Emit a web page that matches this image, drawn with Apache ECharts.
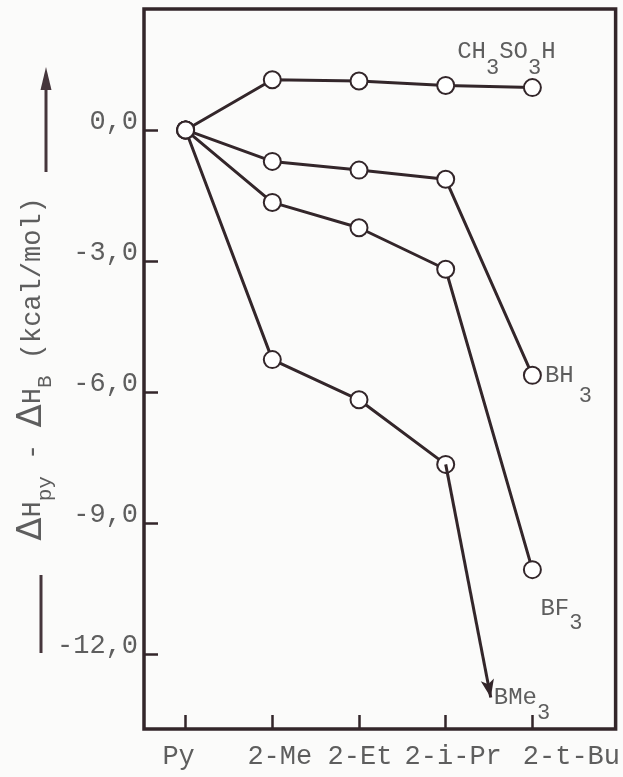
<!DOCTYPE html>
<html>
<head>
<meta charset="utf-8">
<script src="https://cdn.jsdelivr.net/npm/echarts@6/dist/echarts.min.js"></script>
<style>
  html, body { margin: 0; padding: 0; background: #fbfbfa; }
  #chart { width: 623px; height: 777px; }
</style>
</head>
<body>
<div id="chart"></div>
<script>
// Pyridine bases along the x axis
const categories = ['Py', '2-Me', '2-Et', '2-i-Pr', '2-t-Bu'];
const xPositions = [0, 1, 2, 3, 4];

// ΔH(py) - ΔH(B) in kcal/mol for each reference acid
const ch3so3h = [0, 1.15, 1.12, 1.02, 0.97];
const bh3 = [0, -0.72, -0.92, -1.13, -5.62];
const bf3 = [0, -1.66, -2.24, -3.19, -10.07];
const bme3 = [0, -5.26, -6.18, -7.66];
// BMe3 with 2-t-Bu is off scale: drawn as an arrow to this point
const bme3Tip = [3.52, -13.0];

const yTicks = [0, -3, -6, -9, -12];

const FONT = '"Liberation Mono", "DejaVu Sans Mono", monospace';
const INK = '#33262a';
const TEXT = '#5e5e5e';

const pairs = (vals) => vals.map((v, i) => [xPositions[i], v]);

const subRich = (shift, gap) => ({
  m: { fontFamily: FONT, fontSize: 24, color: TEXT, lineHeight: 24, verticalAlign: 'top' },
  s: { fontFamily: FONT, fontSize: 22, color: TEXT, lineHeight: 22, verticalAlign: 'top', padding: [shift, 0, 0, gap || 0] }
});

function withEndLabel(vals, label) {
  const d = pairs(vals);
  const last = d.length - 1;
  d[last] = { value: d[last], label: Object.assign({ show: true, color: TEXT, textBorderWidth: 0 }, label) };
  return d;
}

const baseSeries = {
  type: 'line',
  symbol: 'emptyCircle',
  symbolSize: 17,
  lineStyle: { color: INK, width: 3 },
  itemStyle: { color: INK, borderColor: INK, borderWidth: 3.2 },
  z: 3,
  animation: false
};

const chart = echarts.init(document.getElementById('chart'), null, { renderer: 'canvas' });

chart.setOption({
  backgroundColor: '#fbfbfa',
  animation: false,
  grid: {
    left: 144, right: 3, top: 9, bottom: 48,
    show: true, borderColor: INK, borderWidth: 3.5
  },
  xAxis: {
    type: 'value',
    min: -0.48, max: 4.96,
    axisLine: { show: false, onZero: false },
    splitLine: { show: false },
    axisTick: {
      show: true, inside: true, length: 14, customValues: xPositions,
      lineStyle: { color: INK, width: 2.5 }
    },
    axisLabel: {
      customValues: xPositions,
      margin: 14,
      fontFamily: FONT, fontSize: 27, color: TEXT,
      formatter: (v) => {
        const i = Math.round(v);
        return '{p' + i + '|' + categories[i] + '}';
      },
      rich: {
        p0: { padding: [0, 14, 0, 0] },
        p1: { padding: [0, 0, 0, 15] },
        p2: { padding: [0, 0, 0, 2] },
        p3: { padding: [0, 0, 0, 15] },
        p4: { padding: [0, 0, 0, 78] }
      }
    }
  },
  yAxis: {
    type: 'value',
    min: -13.72, max: 2.77,
    axisLine: { show: false, onZero: false },
    splitLine: { show: false },
    axisTick: {
      show: true, inside: true, length: 14, customValues: yTicks,
      lineStyle: { color: INK, width: 2.5 }
    },
    axisLabel: {
      customValues: yTicks,
      margin: 6,
      fontFamily: FONT, fontSize: 27, color: TEXT,
      formatter: (v) => '{a|' + v.toFixed(1).replace('.', ',') + '}',
      rich: {
        a: { fontFamily: FONT, fontSize: 27, color: TEXT, lineHeight: 27, padding: [0, 0, 16, 0] }
      }
    },
    name: '{d|Δ}{m|H}{s|py}{m| - }{d|Δ}{m|H}{s|B}{m| (kcal/mol)}',
    nameLocation: 'middle',
    nameRotate: 90,
    nameGap: 95,
    nameMoveOverlap: false,
    nameTextStyle: {
      rich: {
        d: { fontFamily: '"DejaVu Sans", sans-serif', fontSize: 34, color: TEXT, lineHeight: 34, verticalAlign: 'top' },
        m: { fontFamily: FONT, fontSize: 27, color: TEXT, lineHeight: 34, verticalAlign: 'top', padding: [4, 0, 0, 0] },
        s: { fontFamily: FONT, fontSize: 21, color: TEXT, lineHeight: 21, verticalAlign: 'top', padding: [20, 0, 0, 0] }
      }
    }
  },
  graphic: [
    // arrow beside the y-axis title
    { type: 'line', shape: { x1: 46, y1: 172, x2: 46, y2: 86 }, style: { stroke: '#46363c', lineWidth: 3 } },
    { type: 'polygon', shape: { points: [[46, 67], [40.5, 90], [51.5, 90]] }, style: { fill: '#46363c' } },
    { type: 'line', shape: { x1: 41, y1: 575, x2: 41, y2: 653 }, style: { stroke: '#46363c', lineWidth: 3 } }
  ],
  series: [
    Object.assign({}, baseSeries, {
      name: 'CH3SO3H',
      data: withEndLabel(ch3so3h, {
        position: 'top', offset: [-26, -9],
        formatter: '{m|CH}{s|3}{m|SO}{s|3}{m|H}', rich: subRich(17)
      })
    }),
    Object.assign({}, baseSeries, {
      name: 'BH3',
      data: withEndLabel(bh3, {
        position: 'right', distance: 3, offset: [0, 0],
        formatter: '{m|BH}{s|3}', rich: subRich(22, 5)
      })
    }),
    Object.assign({}, baseSeries, {
      name: 'BF3',
      data: withEndLabel(bf3, {
        position: 'bottom', offset: [29, 13],
        formatter: '{m|BF}{s|3}', rich: subRich(15)
      })
    }),
    Object.assign({}, baseSeries, {
      name: 'BMe3',
      data: pairs(bme3),
      markLine: {
        silent: true,
        symbol: ['none', 'arrow'],
        symbolSize: [10, 18],
        label: { show: false },
        lineStyle: { color: INK, width: 3, type: 'solid' },
        data: [[{ coord: pairs(bme3)[3] }, { coord: bme3Tip }]]
      }
    }),
    {
      type: 'scatter',
      name: 'BMe3 label',
      symbolSize: 0,
      animation: false,
      itemStyle: { color: TEXT, opacity: 1 },
      data: [{
        value: bme3Tip,
        label: {
          show: true, position: 'right', distance: 3,
          color: TEXT, textBorderWidth: 0,
          formatter: '{m|BMe}{s|3}', rich: subRich(17)
        }
      }]
    }
  ]
});
</script>
</body>
</html>
